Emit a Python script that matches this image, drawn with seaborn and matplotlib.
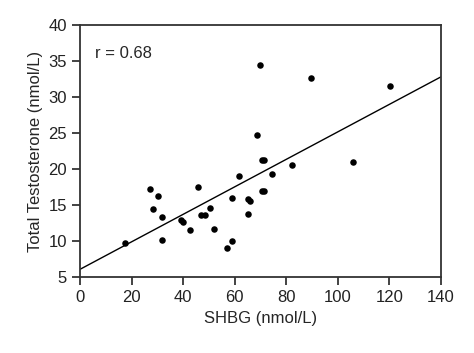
import numpy as np
import pandas as pd
import matplotlib
matplotlib.use("Agg")
import matplotlib.pyplot as plt
import seaborn as sns

# values
shbg = [17.3, 27.2, 30.1, 28.4, 31.8, 31.8, 39.0, 40.0, 42.5, 45.6, 47.0, 48.5,
        50.3, 52.0, 57.2, 58.8, 58.8, 61.7, 65.1, 65.9, 65.1, 70.5, 71.5, 70.5,
        71.5, 74.3, 69.8, 68.6, 89.8, 120.2, 82.4, 105.9]
testosterone = [9.8, 17.3, 16.3, 14.4, 13.4, 10.2, 12.9, 12.7, 11.6, 17.5, 13.6, 13.6,
                14.6, 11.7, 9.1, 10.0, 16.0, 19.1, 15.9, 15.5, 13.8, 21.2, 21.2, 17.0,
                16.9, 19.3, 34.4, 24.7, 32.7, 31.5, 20.6, 21.0]
r_label = "r = 0.68"

df = pd.DataFrame({"SHBG": shbg, "TT": testosterone})

sns.set_style("white")
plt.rcParams["font.family"] = ["Liberation Sans", "DejaVu Sans"]

fig = plt.figure(figsize=(4.74, 3.53), dpi=100)
ax = fig.add_axes([0.169, 0.215, 0.761, 0.714])
ax.set_xlim(0, 140)
ax.set_ylim(5, 40)

# regression line across the whole axis, no confidence band
sns.regplot(data=df, x="SHBG", y="TT", ax=ax, ci=None, truncate=False,
            scatter_kws={"color": "black", "s": 22, "linewidths": 0, "alpha": 1},
            line_kws={"color": "black", "linewidth": 1.0})

ax.set_xlim(0, 140)
ax.set_ylim(5, 40)
ax.set_xticks(range(0, 141, 20))
ax.set_yticks(range(5, 41, 5))
ax.tick_params(direction="out", length=6, width=1.2, labelsize=12,
               bottom=True, left=True, colors="#222222")
for s in ax.spines.values():
    s.set_color("#333333")
    s.set_linewidth(1.3)

ax.set_xlabel("SHBG (nmol/L)", fontsize=12)
ax.set_ylabel("Total Testosterone (nmol/L)", fontsize=12)
ax.text(0.042, 0.889, r_label, transform=ax.transAxes, fontsize=12, va="center")

fig.savefig("out.png", dpi=100)
